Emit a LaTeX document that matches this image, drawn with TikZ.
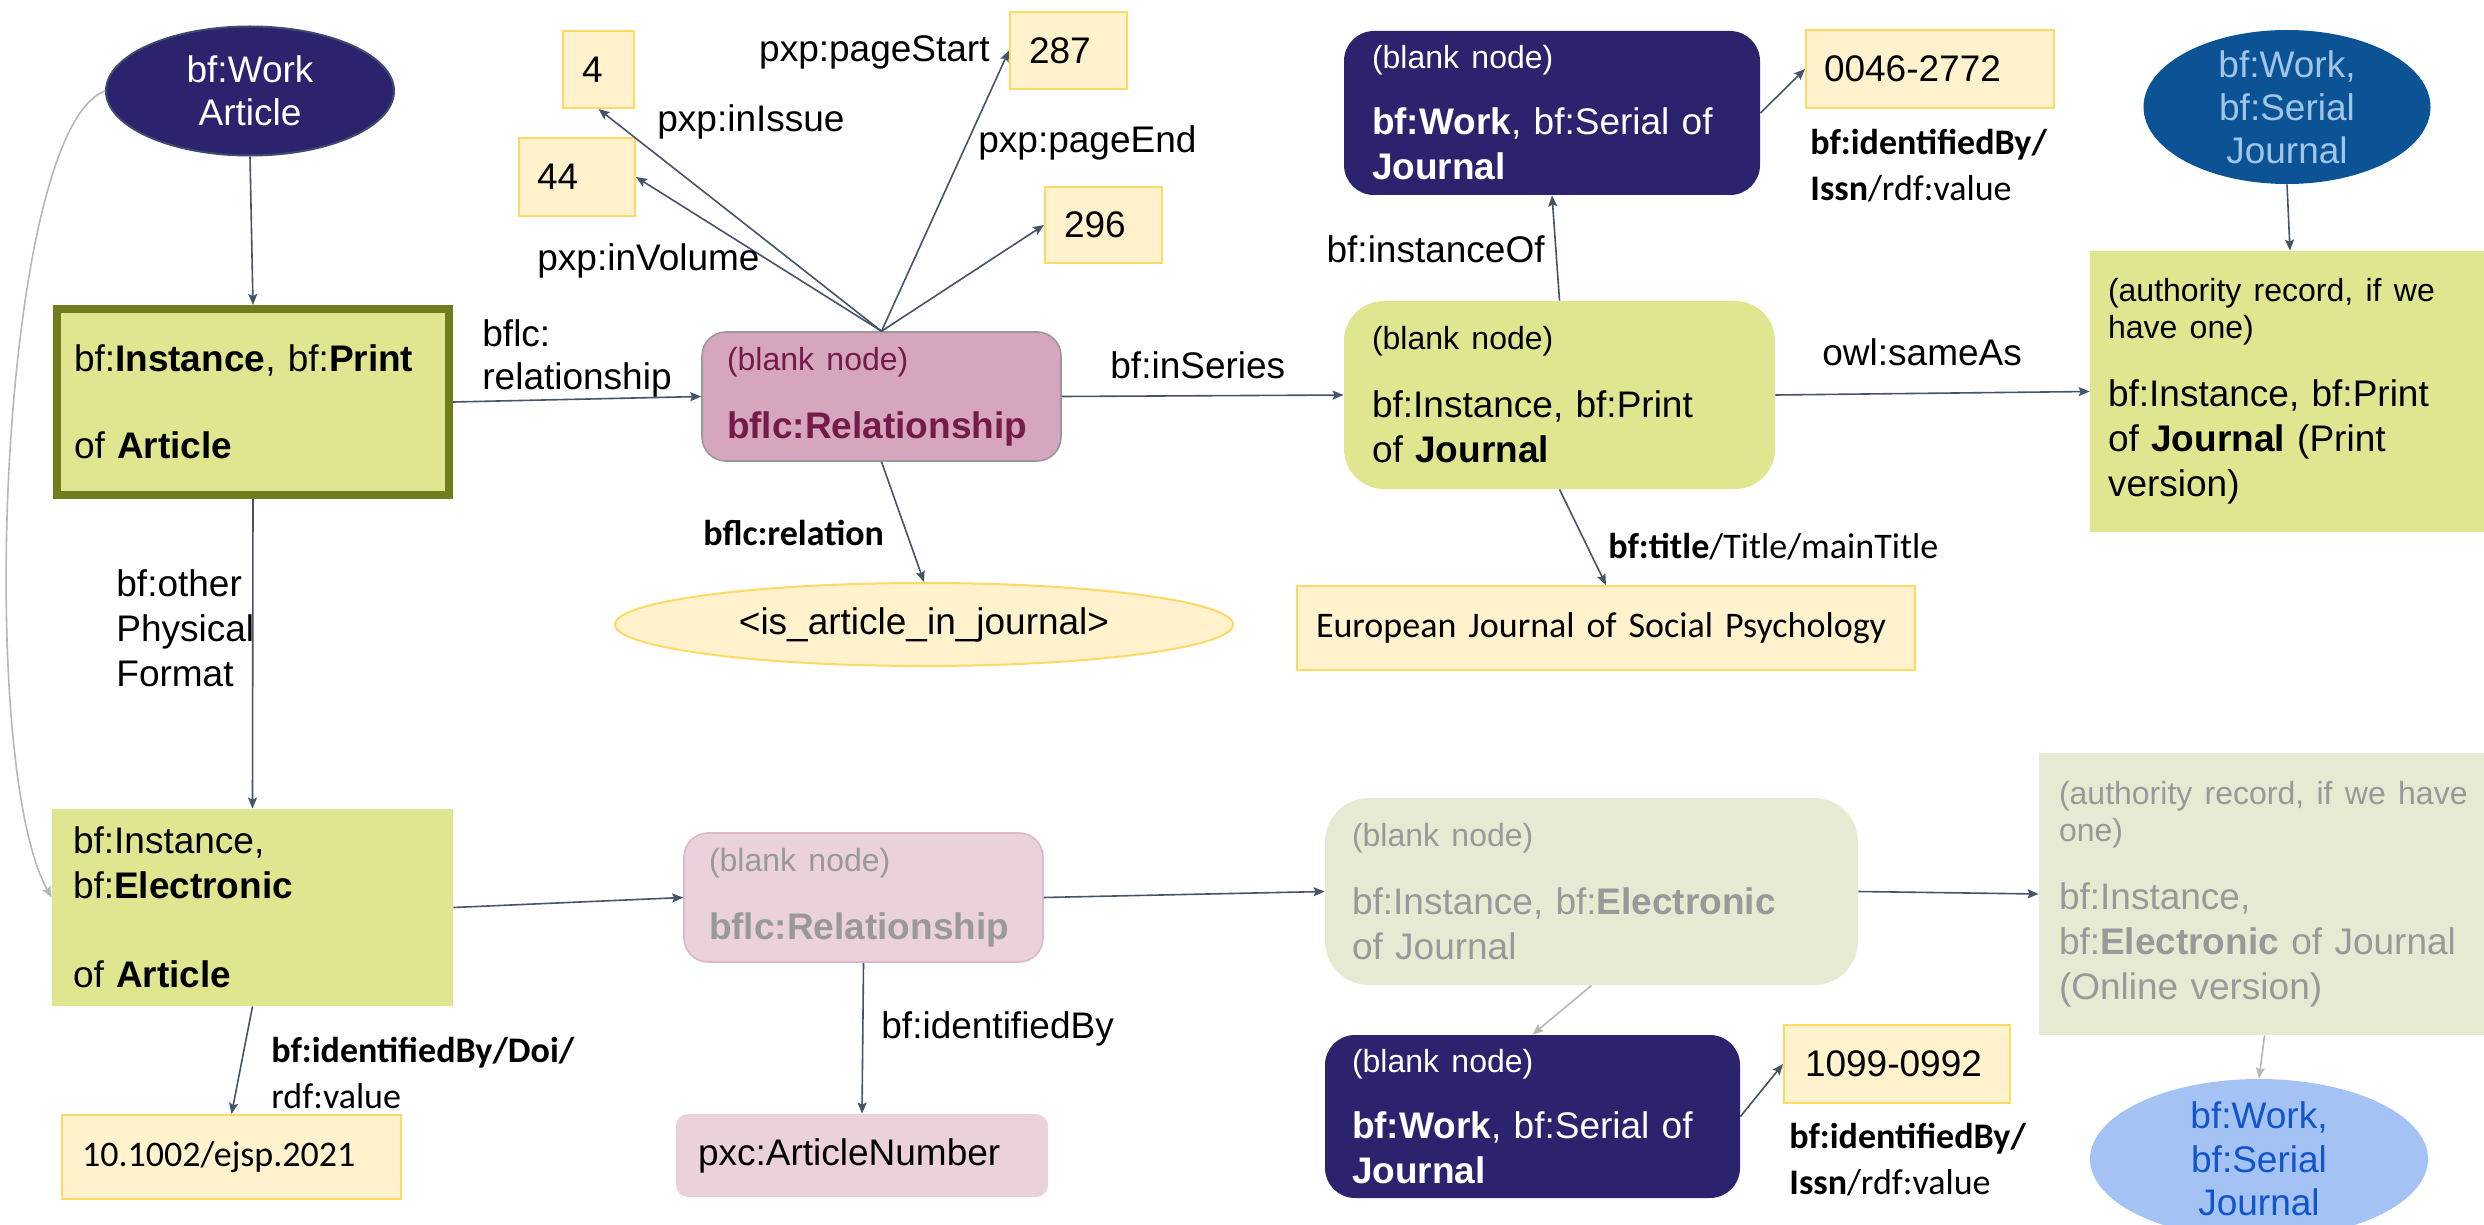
\documentclass[tikz,border=0pt]{standalone}
\usepackage{fontspec}
\setmainfont{Liberation Sans}
\newfontfamily\calfont{Carlito}
\usetikzlibrary{shapes.geometric,arrows.meta}

\definecolor{navy}{HTML}{2C236F}
\definecolor{navyedge}{HTML}{3F4A6E}
\definecolor{olive}{HTML}{6F7D1C}
\definecolor{limefill}{HTML}{DFE68F}
\definecolor{palelime}{HTML}{E6EAD2}
\definecolor{rose}{HTML}{D5A6BD}
\definecolor{rosetext}{HTML}{741B47}
\definecolor{palerose}{HTML}{EAD1DC}
\definecolor{cream}{HTML}{FFF2CC}
\definecolor{creamedge}{HTML}{FFD966}
\definecolor{slate}{HTML}{44546A}
\definecolor{lightgrey}{HTML}{B7B7B7}
\definecolor{fadetext}{HTML}{999999}
\definecolor{seablue}{HTML}{0B5394}
\definecolor{skytext}{HTML}{9FC5E8}
\definecolor{skyfill}{HTML}{A4C2F4}
\definecolor{deepblue}{HTML}{1155CC}

\newcommand\bigf{\fontsize{18.5}{22.5}\selectfont}
\newcommand\smf{\fontsize{16}{18.5}\selectfont}
\newcommand\calf{\calfont\fontsize{18}{23}\selectfont}

\tikzset{
  rbox/.style n args={4}{rectangle, minimum width=#1, minimum height=#2,
    inner xsep=#3, inner ysep=0pt, text width=#4, align=left, font=\bigf},
  valbox/.style={fill=cream, draw=creamedge, line width=1pt},
  lbl/.style={inner sep=0pt, align=left, font=\bigf},
  calbl/.style={inner sep=0pt, align=left, font=\calf},
  link/.style={draw=slate, line width=0.8pt,
    -{Stealth[length=5.5pt,width=4.5pt,inset=1pt]}},
  fadelink/.style={draw=lightgrey, line width=0.8pt,
    -{Stealth[length=5.5pt,width=4.5pt,inset=1pt]}},
}

\begin{document}
\begin{tikzpicture}[x=0.5pt, y=-0.5pt]
\fill[white] (0,0) rectangle (2484,1225);
\useasboundingbox (0,0) rectangle (2484,1225);
\clip (0,0) rectangle (2484,1225);

% ---- article (left column) ----
\node[ellipse, fill=navy, draw=navyedge, line width=1pt, minimum width=144pt,
  minimum height=64.5pt, inner sep=0pt, align=center, text=white,
  font=\fontsize{18.5}{21.5}\selectfont] (workArticle) at (250,91) {bf:Work\\Article};

\node[rbox={196pt}{93pt}{8.5pt}{179pt}, fill=limefill, draw=olive, line width=4pt]
  (printArt) at (253,402) {bf:\textbf{Instance}, bf:\textbf{Print}\\[21pt]of \textbf{Article}};

\node[rbox={200.5pt}{98.5pt}{10.5pt}{179.5pt}, fill=limefill]
  (elecArt) at (252.5,907.5) {bf:Instance,\\bf:\textbf{Electronic}\\[22pt]of \textbf{Article}};

\node[rbox={169.5pt}{42pt}{10pt}{149.5pt}, valbox, font=\calf]
  (doi) at (231.5,1157) {10.1002/ejsp.2021};

% ---- literal values ----
\node[rbox={35.5pt}{38.5pt}{9.5pt}{16.5pt}, valbox] (box4) at (598.5,69.5) {4};
\node[rbox={58pt}{39pt}{9pt}{40pt}, valbox] (box44) at (577,177) {44};
\node[rbox={58.5pt}{38.5pt}{9.5pt}{39.5pt}, valbox] (box287) at (1068.5,50.5) {287};
\node[rbox={58.5pt}{38pt}{9.5pt}{39.5pt}, valbox] (box296) at (1103.5,225) {296};
\node[rbox={124pt}{39pt}{9pt}{106pt}, valbox] (box0046) at (1930,69) {0046-2772};
\node[rbox={113pt}{39pt}{10.5pt}{92pt}, valbox] (box1099) at (1897,1064) {1099-0992};
\node[rbox={309pt}{42pt}{9.5pt}{290pt}, valbox, font=\calf]
  (titleBox) at (1606,628) {European Journal of Social Psychology};

% ---- relationship blank nodes ----
\node[rbox={179.5pt}{64.5pt}{12.5pt}{154.5pt}, fill=rose, draw=fadetext, line width=0.8pt,
  rounded corners=12pt, text=rosetext]
  (pinkRel) at (881.5,396.5) {{\smf (blank node)\par}\vspace{11.5pt}\textbf{bflc:Relationship}};

\node[rbox={179.5pt}{64.5pt}{12.5pt}{154.5pt}, fill=palerose, draw=rose!80, line width=0.8pt,
  rounded corners=12pt, text=fadetext]
  (paleRel) at (863.5,897.5) {{\smf (blank node)\par}\vspace{11.5pt}\textbf{bflc:Relationship}};

\node[rbox={186pt}{41.5pt}{11pt}{164pt}, fill=palerose, rounded corners=6pt]
  (artNum) at (862,1155.5) {pxc:ArticleNumber};

\node[ellipse, fill=cream, draw=creamedge, line width=1pt, minimum width=309pt,
  minimum height=41.5pt, inner sep=0pt, font=\bigf]
  (isArticle) at (924,624.5) {<is\_article\_in\_journal>};

% ---- journal (print) ----
\node[rbox={208pt}{82pt}{14pt}{180pt}, fill=navy, rounded corners=15pt, text=white]
  (navySerial) at (1552,113) {{\smf (blank node)\par}\vspace{10.5pt}\textbf{bf:Work}, bf:Serial of\\\textbf{Journal}};

\node[rbox={215.5pt}{94pt}{14pt}{187.5pt}, fill=limefill, rounded corners=20pt]
  (greenBlank) at (1559.5,395) {{\smf (blank node)\par}\vspace{11.5pt}bf:Instance, bf:Print\\of \textbf{Journal}};

\node[rbox={200pt}{140.5pt}{9pt}{182pt}, fill=limefill]
  (authPrint) at (2290,391.5) {{\smf (authority record, if we\\have one)\par}\vspace{11.5pt}bf:Instance, bf:Print\\of \textbf{Journal} (Print\\version)};

\node[ellipse, fill=seablue, minimum width=143.5pt, minimum height=77pt,
  inner xsep=0pt, inner ysep=-6pt, align=center, text=skytext,
  font=\fontsize{18.5}{21.5}\selectfont]
  (circTop) at (2287,107) {bf:Work,\\bf:Serial\\Journal};

% ---- journal (electronic) ----
\node[rbox={266.5pt}{93.5pt}{13.5pt}{239.5pt}, fill=palelime, rounded corners=22pt, text=fadetext]
  (paleJournal) at (1591.5,891.5) {{\smf (blank node)\par}\vspace{11.5pt}bf:Instance, bf:\textbf{Electronic}\\of Journal};

\node[rbox={225.5pt}{141pt}{10pt}{205.5pt}, fill=palelime, text=fadetext]
  (authElec) at (2264.5,894) {{\smf (authority record, if we have\\one)\par}\vspace{11.5pt}bf:Instance,\\bf:\textbf{Electronic} of Journal\\(Online version)};

\node[rbox={207.5pt}{81.5pt}{13.5pt}{180.5pt}, fill=navy, rounded corners=15pt, text=white]
  (navySerial2) at (1532.5,1116.5) {{\smf (blank node)\par}\vspace{10.5pt}\textbf{bf:Work}, bf:Serial of\\\textbf{Journal}};

\node[ellipse, fill=skyfill, minimum width=169pt, minimum height=80pt,
  inner xsep=0pt, inner ysep=-6pt, align=center, text=deepblue,
  font=\fontsize{18.5}{21.75}\selectfont]
  (circBottom) at (2259,1159) {bf:Work,\\bf:Serial\\Journal};

% ---- connectors ----
\draw[link] (workArticle.south) -- (printArt.north);
\draw[link] (printArt.south) -- (elecArt.north);
\draw[fadelink] (workArticle.west) .. controls (0,130) and (-25,760) .. ([yshift=5pt]elecArt.west);
\draw[link] (printArt.east) -- (pinkRel.west);
\draw[link] (pinkRel.north) -- (box4.south);
\draw[link] (pinkRel.north) -- (box44.east);
\draw[link] (pinkRel.north) -- (box287.west);
\draw[link] (pinkRel.north) -- (box296.west);
\draw[link] (pinkRel.east) -- (greenBlank.west);
\draw[link] (pinkRel.south) -- (isArticle.north);
\draw[link] (greenBlank.north) -- (navySerial.south);
\draw[link] (navySerial.east) -- (box0046.west);
\draw[link] (greenBlank.east) -- (authPrint.west);
\draw[link] (greenBlank.south) -- (titleBox.north);
\draw[link] (circTop.south) -- (authPrint.north);
\draw[link] (elecArt.east) -- (paleRel.west);
\draw[link] (elecArt.south) -- (doi.north);
\draw[link] (paleRel.south) -- (artNum.north);
\draw[link] (paleRel.east) -- (paleJournal.west);
\draw[link] (paleJournal.east) -- (authElec.west);
\draw[fadelink] (paleJournal.south) -- (navySerial2.north);
\draw[link] (navySerial2.east) -- (box1099.west);
\draw[fadelink] (authElec.south) -- (circBottom.north);

% ---- connector labels ----
\node[lbl, anchor=west] (lOther) at (116,628) {bf:other\\Physical\\Format};
\node[lbl, anchor=west, font=\fontsize{18.5}{21.5}\selectfont] (lRelship) at (482,358.5) {bflc:\\relationship};
\node[lbl, anchor=west] (lIssue) at (657,122) {pxp:inIssue};
\node[lbl, anchor=west] (lVolume) at (537,261) {pxp:inVolume};
\node[lbl, anchor=east] (lStart) at (990,52) {pxp:pageStart};
\node[lbl, anchor=west] (lEnd) at (978,143) {pxp:pageEnd};
\node[lbl, anchor=west] (lSeries) at (1110,365) {bf:inSeries};
\node[calbl, anchor=west] (lRelation) at (703,533) {\textbf{bflc:relation}};
\node[lbl, anchor=east] (lInstOf) at (1545,249) {bf:instanceOf};
\node[calbl, anchor=west] (lIssn) at (1810,166) {\textbf{bf:identifiedBy/}\\\textbf{Issn}/rdf:value};
\node[lbl, anchor=west] (lSame) at (1822,352) {owl:sameAs};
\node[calbl, anchor=west] (lTitle) at (1608,547) {\textbf{bf:title}/Title/mainTitle};
\node[calbl, anchor=west] (lDoi) at (271,1073) {\textbf{bf:identifiedBy/Doi/}\\rdf:value};
\node[lbl, anchor=west] (lIdBy) at (881,1029) {bf:identifiedBy};
\node[calbl, anchor=west] (lIssnTwo) at (1789,1159.5) {\textbf{bf:identifiedBy/}\\\textbf{Issn}/rdf:value};
\end{tikzpicture}
\end{document}
